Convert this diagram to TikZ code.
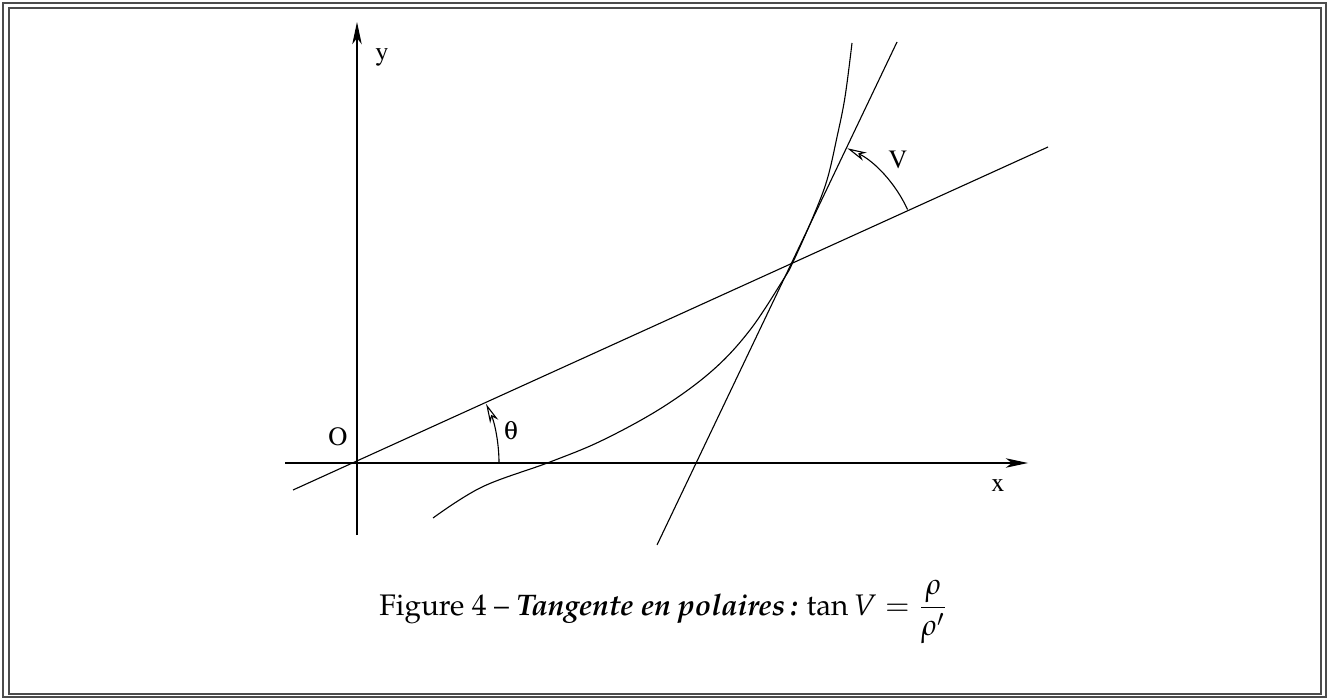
\documentclass[tikz,border=0pt]{standalone}
\usepackage[T1]{fontenc}
\usepackage{amsmath}
\usepackage{mathpazo}
\usepackage{pifont}
\usepackage{tikz}
\usetikzlibrary{arrows.meta}

\begin{document}
\begin{tikzpicture}[
    x=0.36pt, y=0.36pt,
    line width=0.4pt,
    lbl/.style={font=\fontsize{9.5}{11}\fontfamily{ptm}\selectfont, inner sep=0pt},
    axis/.style={-{Stealth[length=8pt, width=3.4pt, inset=2.2pt]}},
    angarr/.style={-{Stealth[open, length=7pt, width=3.2pt, inset=2pt]}},
    frame/.style={draw=black!70}
  ]
  \useasboundingbox (0,0) rectangle (1329,699);
  % double frame
  \draw[frame, line width=0.6pt] (3,2) rectangle (1326,696);
  \draw[frame] (9,5) rectangle (1321,691);
  % points
  \coordinate (O) at (357,236);
  \coordinate (M) at (793,437);
  \coordinate (xs) at (285,236);
  \coordinate (xe) at (1028,236);
  \coordinate (ys) at (357,164);
  \coordinate (ye) at (357,677);
  \coordinate (rs) at (293,209);
  \coordinate (re) at (1048,552);
  \coordinate (ts) at (657,154);
  \coordinate (te) at (897,657);
  % axes
  \draw[axis] (xs) -- (xe);
  \draw[axis] (ys) -- (ye);
  % radius line and tangent
  \draw (rs) -- (re);
  \draw (ts) -- (te);
  % curve
  \draw plot[smooth, tension=0.6] coordinates {(433,181) (482,212) (550,237) (603,259) (663,292)
    (713,329) (750,369) (783,419) (M) (813,482) (827,519) (837,562) (845,602) (852,656)};
  % angles
  \draw[angarr] (O) ++(0:142) arc[start angle=0, end angle=24.6, radius=142];
  \draw[angarr] (M) ++(24.6:126) arc[start angle=24.6, end angle=64.5, radius=126];
  % labels
  \node[lbl] (ylbl) at (382,642) {y};
  \node[lbl] (xlbl) at (998,214) {x};
  \node[lbl] (olbl) at (338,262) {O};
  \node[lbl] (thlbl) at (511,268) {\usefont{U}{psy}{m}{n}\char113};
  \node[lbl] (vlbl) at (898,539) {V};
  % caption
  \node[anchor=base, font=\fontsize{10.7}{13}\selectfont] (cap) at (664,84)
    {Figure 4 -- \textbf{\textit{Tangente en polaires\,:}} $\tan V = \dfrac{\rho}{\rho'}$};
\end{tikzpicture}
\end{document}
